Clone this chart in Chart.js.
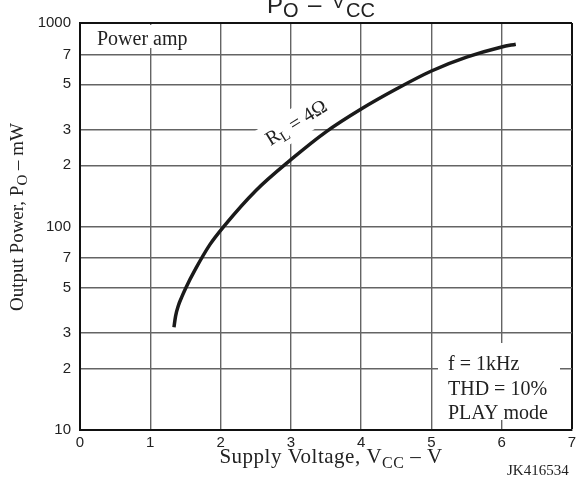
<!DOCTYPE html>
<html>
<head>
<meta charset="utf-8">
<script src="https://cdn.jsdelivr.net/npm/chart.js@4/dist/chart.umd.min.js"></script>
<style>
  html, body { margin: 0; padding: 0; background: #fff; }
</style>
</head>
<body>
<canvas id="po-vcc" width="576" height="479"></canvas>
<script>
// values (RL = 4 ohm)
const supplyVoltage = [1.337, 1.36, 1.40, 1.45, 1.50, 1.65, 1.85, 2.05,  2.5, 3.0, 3.5, 4.0, 4.5, 5.0, 5.5, 6.0, 6.2];
const outputPower   = [32,    36.3, 40.9, 45.2, 49.5, 62.4, 81.7, 100.5, 150, 213, 292, 378, 474, 581, 679, 762, 787];

const xTicks = [0, 1, 2, 3, 4, 5, 6, 7];
const yTicks = [10, 20, 30, 50, 70, 100, 200, 300, 500, 700, 1000];

const SANS = '"Liberation Sans", Arial, sans-serif';
const SERIF = '"Liberation Serif", "Times New Roman", serif';
const GRID = '#646464';

// draw a row of text pieces (used for subscripts)
function drawRuns(ctx, runs, x, y, align) {
    let w = 0;
    runs.forEach(r => { ctx.font = r[1]; w += ctx.measureText(r[0]).width; });
    let cx = align === 'center' ? x - w / 2 : (align === 'right' ? x - w : x);
    ctx.textAlign = 'left';
    ctx.textBaseline = 'alphabetic';
    runs.forEach(r => {
        ctx.font = r[1];
        ctx.fillText(r[0], cx, y + (r[2] || 0));
        cx += ctx.measureText(r[0]).width;
    });
    return w;
}

const notesPlugin = {
    id: 'notes',
    beforeDatasetsDraw(chart) {
        const ctx = chart.ctx;
        ctx.save();
        ctx.fillStyle = '#fff';
        // "Power amp" box
        ctx.fillRect(90, 25, 112, 23);
        // conditions box
        ctx.fillRect(438, 343, 122, 77);
        ctx.fillStyle = '#222';
        ctx.font = '20px ' + SERIF;
        ctx.textAlign = 'left';
        ctx.fillText('Power amp', 97, 45);
        ctx.fillText('f = 1kHz', 448, 370);
        ctx.fillText('THD = 10%', 448, 395);
        ctx.fillText('PLAY mode', 448, 419);

        // RL label along the curve
        ctx.translate(299, 127);
        ctx.rotate(-32 * Math.PI / 180);
        ctx.fillStyle = '#fff';
        ctx.fillRect(-45, -20, 90, 30);
        ctx.fillStyle = '#222';
        drawRuns(ctx, [
            ['R', '20px ' + SERIF, 0],
            ['L', '15px ' + SERIF, 4],
            [' = 4\u03A9', '20px ' + SERIF, 0]
        ], 0, 1, 'center');
        ctx.restore();
    },
    afterDraw(chart) {
        const ctx = chart.ctx;
        ctx.save();
        ctx.fillStyle = '#222';
        // title
        drawRuns(ctx, [['P', '24px ' + SANS, 0]], 267, 13, 'left');
        drawRuns(ctx, [['O', '20px ' + SANS, 0]], 283, 17, 'left');
        drawRuns(ctx, [['\u2013', '24px ' + SANS, 0]], 308, 12, 'left');
        drawRuns(ctx, [['V', '19px ' + SANS, 0]], 332, 8, 'left');
        drawRuns(ctx, [['CC', '20px ' + SANS, 0]], 346, 17, 'left');

        // x axis title
        ctx.letterSpacing = '0.5px';
        drawRuns(ctx, [
            ['Supply Voltage, V', '21px ' + SERIF, 0],
            ['CC', '16px ' + SERIF, 5],
            [' \u2013 V', '21px ' + SERIF, 0]
        ], 331, 463, 'center');
        ctx.letterSpacing = '0px';

        ctx.font = '15px ' + SERIF;
        ctx.fillText('JK416534', 507, 475);

        // y axis title
        ctx.translate(23, 217);
        ctx.rotate(-Math.PI / 2);
        drawRuns(ctx, [
            ['Output Power, P', '19px ' + SERIF, 0],
            ['O', '15px ' + SERIF, 4],
            [' \u2013 mW', '19px ' + SERIF, 0]
        ], 0, 0, 'center');
        ctx.restore();
    }
};

const ctx = document.getElementById('po-vcc');

new Chart(ctx, {
    type: 'line',
    data: {
        datasets: [{
            label: 'RL = 4\u03A9',
            data: supplyVoltage.map((v, i) => ({ x: v, y: outputPower[i] })),
            borderColor: '#1a1a1a',
            borderWidth: 3.5,
            pointRadius: 0,
            fill: false,
            cubicInterpolationMode: 'monotone'
        }]
    },
    options: {
        responsive: false,
        devicePixelRatio: 1,
        animation: false,
        layout: { padding: { top: 23, right: 4, left: 0, bottom: 0 } },
        plugins: {
            legend: { display: false },
            tooltip: { enabled: false }
        },
        scales: {
            x: {
                type: 'linear',
                min: 0,
                max: 7,
                afterBuildTicks(scale) {
                    scale.ticks = xTicks.map(v => ({ value: v }));
                },
                afterFit(scale) {
                    scale.height = 49;
                    scale.paddingLeft = 0;
                    scale.paddingRight = 0;
                },
                ticks: {
                    color: '#222',
                    font: { family: SANS, size: 15 },
                    padding: 4,
                    maxRotation: 0,
                    callback: v => String(v)
                },
                grid: {
                    drawTicks: false,
                    color: c => (c.tick && c.tick.value === 7) ? '#111' : GRID,
                    lineWidth: c => (c.tick && c.tick.value === 7) ? 2 : 1.4
                },
                border: { color: '#111', width: 2 }
            },
            y: {
                type: 'logarithmic',
                min: 10,
                max: 1000,
                afterBuildTicks(scale) {
                    scale.ticks = yTicks.map(v => ({ value: v }));
                },
                afterFit(scale) {
                    scale.width = 80;
                    scale.paddingTop = 0;
                    scale.paddingBottom = 0;
                },
                ticks: {
                    color: '#222',
                    font: { family: SANS, size: 15 },
                    padding: 9,
                    callback: v => {
                        if (v === 10 || v === 100 || v === 1000) return String(v);
                        return String(Math.round(v / Math.pow(10, Math.floor(Math.log10(v)))));
                    }
                },
                grid: {
                    drawTicks: false,
                    color: c => (c.tick && c.tick.value === 1000) ? '#111' : GRID,
                    lineWidth: c => (c.tick && c.tick.value === 1000) ? 2 : 1.4
                },
                border: { color: '#111', width: 2 }
            }
        }
    },
    plugins: [notesPlugin]
});
</script>
</body>
</html>
